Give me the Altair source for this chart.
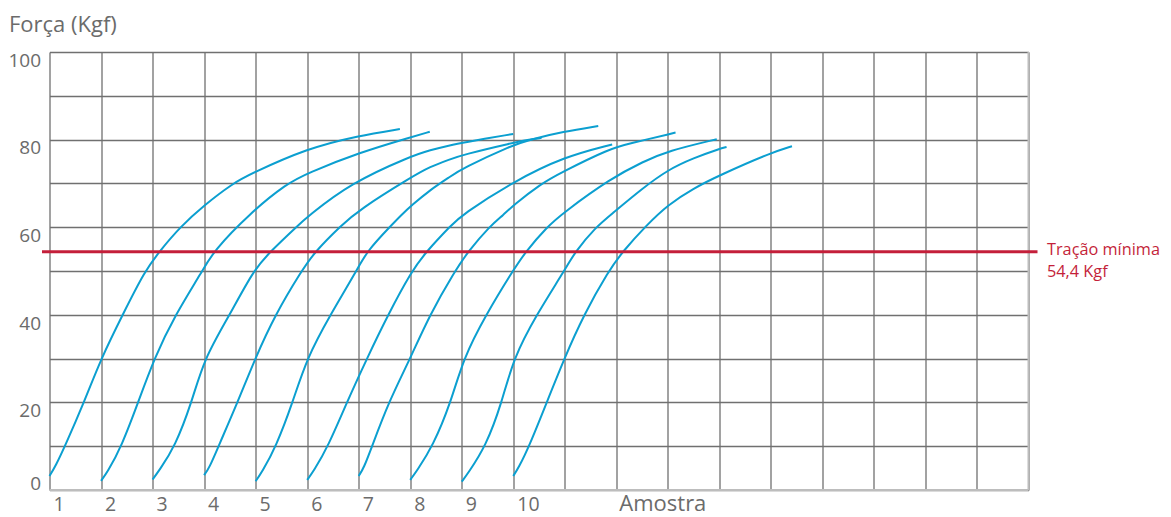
import altair as alt
import pandas as pd

# ---------------- data ----------------
c1_x = [0, 0.12, 0.3, 0.67, 1.0, 1.42, 1.85, 2.13, 2.53, 3.0, 3.56, 3.89, 5.0, 6.0, 6.8]
c1_y = [3.2, 5.5, 10, 20, 30, 40, 50, 54.4, 60, 65, 70, 72.1, 78.0, 80.9, 82.4]

c2_x = [1, 1.12, 1.40, 1.72, 2.03, 2.44, 2.97, 3.17, 3.89, 4.61, 5.0, 6.0, 7.03, 7.38]
c2_y = [2.1, 4.0, 10, 20, 30, 40, 50, 54.4, 63.2, 70, 72.3, 77.0, 80.6, 81.8]

c3_x = [2, 2.12, 2.44, 2.76, 3.0, 3.5, 3.95, 4.28, 4.83, 5.0, 5.83, 7.03, 7.385, 7.77, 8.01, 9.0]
c3_y = [2.4, 4.3, 10, 20, 30, 40, 50, 54.4, 60.5, 62.3, 70, 76.3, 77.6, 78.7, 79.3, 81.3]

c4_x = [3, 3.1, 3.28, 3.65, 3.99, 4.38, 4.89, 5.15, 5.67, 6.0, 7.03, 7.385, 7.77, 8.01, 9.0, 9.32, 9.55]
c4_y = [3.4, 5.0, 10, 20, 30, 40, 50, 54.4, 60.5, 63.9, 71.5, 73.8, 75.5, 76.5, 79.3, 80.0, 80.4]

c5_x = [4, 4.12, 4.40, 4.72, 4.99, 5.45, 5.96, 6.15, 6.64, 6.83, 7.03, 7.385, 7.77, 8.01, 9.0, 9.32, 9.97, 10.65]
c5_y = [2.0, 4.0, 10, 20, 30, 40, 50, 54.4, 60.5, 62.8, 65, 68.5, 71.5, 73.4, 78.8, 80.0, 81.8, 83.1]

c6_x = [5, 5.12, 5.41, 5.77, 6.16, 6.57, 7.03, 7.31, 7.8, 8.0, 9.0, 9.99, 10.92]
c6_y = [2.3, 4.2, 10, 20, 30, 40, 50, 54.4, 60.5, 62.8, 70.4, 76.1, 78.9]

c7_x = [6, 6.1, 6.26, 6.58, 7.0, 7.38, 7.87, 8.12, 8.55, 8.81, 9.0, 9.55, 9.9, 10.88, 11.26, 12.15]
c7_y = [3.2, 5.0, 10, 20, 30, 40, 50, 54.4, 60.3, 62.8, 65, 70, 72.3, 78.0, 79.1, 81.6]

c8_x = [7, 7.12, 7.44, 7.79, 8.03, 8.47, 8.99, 9.24, 9.65, 9.96, 10.9, 11.53, 12.0, 12.95]
c8_y = [2.3, 4.2, 10, 20, 30, 40, 50, 54.4, 60, 63.2, 71.2, 75.0, 77.4, 80.1]

c9_x = [8, 8.12, 8.47, 8.78, 9.0, 9.45, 9.99, 10.2, 10.6, 10.91, 11.5, 12.0, 12.5, 13.01, 13.14]
c9_y = [1.9, 3.8, 10, 20, 30, 40, 50, 54.4, 60, 63.0, 68.8, 73.1, 75.8, 77.9, 78.3]

c10_x = [9, 9.1, 9.31, 9.65, 9.99, 10.37, 10.85, 11.12, 11.59, 12.0, 12.5, 13.01, 14.02, 14.41]
c10_y = [3.2, 5.0, 10, 20, 30, 40, 50, 54.4, 60.5, 65.1, 68.9, 71.9, 77.1, 78.5]

sample_labels = ["1", "2", "3", "4", "5", "6", "7", "8", "9", "10"]
y_tick_labels = [0, 20, 40, 60, 80, 100]
min_traction = 54.4
min_label_1 = "Tração mínima"
min_label_2 = "54,4 Kgf"
y_title = "Força (Kgf)"
x_title = "Amostra"

# ---------------- build tables ----------------
curves = [(c1_x, c1_y), (c2_x, c2_y), (c3_x, c3_y), (c4_x, c4_y), (c5_x, c5_y),
          (c6_x, c6_y), (c7_x, c7_y), (c8_x, c8_y), (c9_x, c9_y), (c10_x, c10_y)]
rows = []
for i, (xs, ys) in enumerate(curves):
    for j, (a, b) in enumerate(zip(xs, ys)):
        rows.append({"curve": i + 1, "order": j, "x": a, "y": b})
curve_df = pd.DataFrame(rows)

xlab_df = pd.DataFrame({"lab": sample_labels, "pos": list(range(len(sample_labels)))})
ylab_df = pd.DataFrame({"v": [v for v in y_tick_labels if v != 0],
                        "lab": [str(v) for v in y_tick_labels if v != 0]})
ylab0_df = pd.DataFrame({"v": [0], "lab": ["0"]})

FONT = "Open Sans"
GRAY = "#6b6b6b"
RED = "#c41f3a"
BLUE = "#0b9fd0"

xscale = alt.Scale(domain=[0, 19], nice=False, zero=False)
yscale = alt.Scale(domain=[0, 100], nice=False)

xaxis = alt.Axis(values=list(range(20)), grid=True, labels=False, ticks=False,
                 domain=False, title=None, gridColor="#707070", gridWidth=1.3)
yaxis = alt.Axis(values=list(range(0, 101, 10)), grid=True, labels=False, ticks=False,
                 domain=False, title=None, gridColor="#707070", gridWidth=1.3)

base = alt.Chart(curve_df)

lines = base.mark_line(color=BLUE, strokeWidth=2, interpolate="basis").encode(
    x=alt.X("x:Q", scale=xscale, axis=xaxis),
    y=alt.Y("y:Q", scale=yscale, axis=yaxis),
    detail="curve:N",
    order="order:Q",
)

bottom_rule = alt.Chart(pd.DataFrame({"v": [0]})).mark_rule(color="#bdbdbd", strokeWidth=2).encode(
    y=alt.Y("v:Q", scale=yscale), x=alt.value(0), x2=alt.value(979))
right_rule = alt.Chart(pd.DataFrame({"v": [19]})).mark_rule(color="#bdbdbd", strokeWidth=2).encode(
    x=alt.X("v:Q", scale=xscale), y=alt.value(0), y2=alt.value(438))

red_rule = alt.Chart(pd.DataFrame({"v": [min_traction]})).mark_rule(color=RED, strokeWidth=3).encode(
    y=alt.Y("v:Q", scale=yscale), x=alt.value(-7.5), x2=alt.value(988))

red_text1 = alt.Chart(pd.DataFrame({"t": [min_label_1]})).mark_text(
    align="left", baseline="alphabetic", font=FONT, fontSize=16.3, color=RED).encode(
    x=alt.value(997.5), y=alt.value(203), text="t:N")
red_text2 = alt.Chart(pd.DataFrame({"t": [min_label_2]})).mark_text(
    align="left", baseline="alphabetic", font=FONT, fontSize=16.3, color=RED).encode(
    x=alt.value(997.5), y=alt.value(224.7), text="t:N")

ylabels = alt.Chart(ylab_df).mark_text(
    align="right", baseline="alphabetic", dy=14.7, font=FONT, fontSize=19, color=GRAY).encode(
    x=alt.value(-8.5), y=alt.Y("v:Q", scale=yscale), text="lab:N")
ylabel0 = alt.Chart(ylab0_df).mark_text(
    align="right", baseline="alphabetic", dy=0, font=FONT, fontSize=19, color=GRAY).encode(
    x=alt.value(-8.5), y=alt.Y("v:Q", scale=yscale), text="lab:N")

xlabels = alt.Chart(xlab_df).mark_text(
    align="left", baseline="alphabetic", dx=4, font=FONT, fontSize=19.5, color=GRAY).encode(
    x=alt.X("pos:Q", scale=xscale), y=alt.value(458.5), text="lab:N")

xtitle = alt.Chart(pd.DataFrame({"t": [x_title], "pos": [11]})).mark_text(
    align="left", baseline="alphabetic", dx=3, font=FONT, fontSize=22, color=GRAY).encode(
    x=alt.X("pos:Q", scale=xscale), y=alt.value(458.5), text="t:N")

ytitle = alt.Chart(pd.DataFrame({"t": [y_title]})).mark_text(
    align="left", baseline="alphabetic", font=FONT, fontSize=22, color=GRAY).encode(
    x=alt.value(-40.5), y=alt.value(-20.2), text="t:N")

chart = alt.layer(
    lines, bottom_rule, right_rule, red_rule, red_text1, red_text2,
    ylabels, ylabel0, xlabels, xtitle, ytitle
).properties(
    width=979, height=438,
    autosize=alt.AutoSizeParams(type="none"),
    padding={"left": 41.5, "top": 44, "right": 134.5, "bottom": 27},
    background="white",
).configure_view(strokeWidth=0)

chart.save("out.html", embed_options={"renderer": "svg", "actions": False})
